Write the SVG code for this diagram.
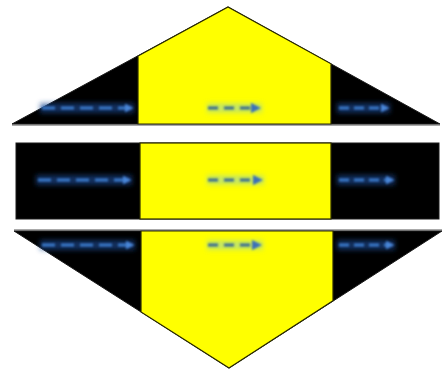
<svg xmlns="http://www.w3.org/2000/svg" width="444" height="372" viewBox="0 0 444 372">
<defs>
<style>
.blk{fill:#000;stroke:#1a1a1a;stroke-width:1}
.yel{fill:#ffff00;stroke:#2a2a00;stroke-width:1.2}
.ar{fill:none;stroke:#3a78c8;stroke-width:3;stroke-dasharray:13 6}
.arr{fill:none;stroke:#3a78c8;stroke-width:3;stroke-dasharray:10 5}
.ary{fill:none;stroke:#3a6a90;stroke-width:3;stroke-dasharray:10 6}
.glow{fill:none;stroke:#1f4a90;stroke-width:10;opacity:0.65}
.glowy{fill:none;stroke:#8fd0b8;stroke-width:9;opacity:0.55}
</style>
<filter id="bl" x="-20%" y="-200%" width="140%" height="500%"><feGaussianBlur stdDeviation="2.8"/></filter>
<filter id="sb" x="-10%" y="-200%" width="120%" height="500%"><feGaussianBlur stdDeviation="1"/></filter>
<marker id="hd" viewBox="0 0 10 10" refX="5" refY="5" markerWidth="3" markerHeight="3" orient="auto" markerUnits="strokeWidth"><path d="M0,0 L10,5 L0,10 Z" fill="#4a86d8"/></marker>
<marker id="hdy" viewBox="0 0 10 10" refX="5" refY="5" markerWidth="3.4" markerHeight="3.4" orient="auto" markerUnits="strokeWidth"><path d="M0,0 L10,5 L0,10 Z" fill="#3a70b8"/></marker>
</defs>
<rect width="444" height="372" fill="#fff"/>
<g id="top">
<polygon class="blk" points="12,124 228,7 440,124"/>
<polygon class="yel" points="138,124 138,56 228,7 331,63.8 331,124"/>
<line x1="12" y1="125" x2="440" y2="125" stroke="#555" stroke-width="1"/>
</g>
<g id="middle">
<rect class="blk" x="16" y="143" width="423" height="76"/>
<rect class="yel" x="140" y="143" width="191" height="76"/>
</g>
<g id="bottom">
<polygon class="blk" points="14,231 442,231 229,368"/>
<polygon class="yel" points="141,231 333,231 333,300.7 229,368 141,312"/>
<line x1="14" y1="230" x2="442" y2="230" stroke="#555" stroke-width="1"/>
</g>
<g id="connectors">
<g filter="url(#bl)">
<line class="glow" x1="40" y1="108" x2="134" y2="108"/>
<line class="glowy" x1="207" y1="108" x2="262" y2="108"/>
<line class="glow" x1="337" y1="108" x2="390" y2="108"/>
<line class="glow" x1="36" y1="180" x2="132" y2="180"/>
<line class="glowy" x1="207" y1="180" x2="264" y2="180"/>
<line class="glow" x1="337" y1="180" x2="395" y2="180"/>
<line class="glow" x1="40" y1="245" x2="135" y2="245"/>
<line class="glowy" x1="207" y1="245" x2="263" y2="245"/>
<line class="glow" x1="337" y1="245" x2="395" y2="245"/>
</g>
<g filter="url(#sb)">
<line class="ar" x1="42" y1="108" x2="129" y2="108" marker-end="url(#hd)"/>
<line class="ary" x1="208" y1="108" x2="256" y2="108" marker-end="url(#hdy)"/>
<line class="arr" x1="339" y1="108" x2="385" y2="108" marker-end="url(#hd)"/>
<line class="ar" x1="38" y1="180" x2="127" y2="180" marker-end="url(#hd)"/>
<line class="ary" x1="208" y1="180" x2="258" y2="180" marker-end="url(#hdy)"/>
<line class="arr" x1="339" y1="180" x2="390" y2="180" marker-end="url(#hd)"/>
<line class="ar" x1="42" y1="245" x2="130" y2="245" marker-end="url(#hd)"/>
<line class="ary" x1="208" y1="245" x2="257" y2="245" marker-end="url(#hdy)"/>
<line class="arr" x1="339" y1="245" x2="390" y2="245" marker-end="url(#hd)"/>
</g>
</g>
</svg>
